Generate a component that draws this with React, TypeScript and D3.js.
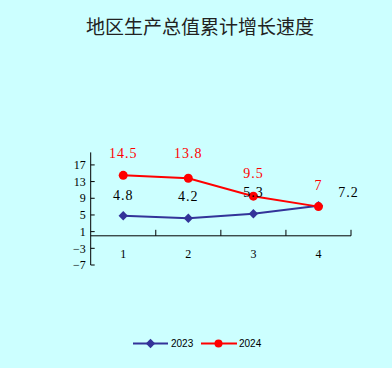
import React from "react";
import * as d3 from "d3";

const categories = ["1", "2", "3", "4"];
const series2023 = [4.8, 4.2, 5.3, 7.2];
const series2024 = [14.5, 13.8, 9.5, 7];
const yTicks = [-7, -3, 1, 5, 9, 13, 17];
const seriesNames = ["2023", "2024"];
const title = "地区生产总值累计增长速度";

const W = 392;
const H = 368;

export default function App() {
  const x = d3.scaleBand<string>().domain(categories).range([90.7, 351]);
  const y = d3.scaleLinear().domain([-7, 20]).range([265, 152.4]);
  const cx = (c: string) => (x(c) as number) + x.bandwidth() / 2;
  const line = d3
    .line<number>()
    .x((_, i) => cx(categories[i]))
    .y((d) => y(d));
  const diamond = d3.symbol().type(d3.symbolSquare).size(44)();
  const blue = "#333399";
  const red = "#ff0000";
  const num = "'Liberation Serif', 'DejaVu Serif', serif";
  // label offsets (styling): dx, dy per point
  const lab2023 = [
    [0, -21],
    [0, -22],
    [0, -22],
    [30, -14],
  ];
  const lab2024 = [
    [0, -22],
    [0, -25],
    [0, -23],
    [0, -22],
  ];
  const x0 = y(0);
  return (
    <div style={{ position: "fixed", left: 0, top: 0 }}>
      <svg width={W} height={H} style={{ display: "block" }}>
        <rect x={0} y={0} width={W} height={H} fill="#ccffff" />
        <text
          x={200}
          y={34}
          textAnchor="middle"
          fontSize={19}
          fontFamily="'Noto Sans CJK SC', sans-serif"
          fill="#222"
        >
          {title}
        </text>
        {/* y axis */}
        <line x1={x.range()[0]} x2={x.range()[0]} y1={y(20)} y2={y(-7)} stroke="#000" strokeWidth={1} />
        {yTicks.map((t) => (
          <g key={t}>
            <line x1={x.range()[0]} x2={x.range()[0] + 4} y1={y(t)} y2={y(t)} stroke="#000" />
            <text
              x={x.range()[0] - 5}
              y={y(t)}
              dy="0.35em"
              textAnchor="end"
              fontSize={12}
              fontFamily={num}
              fill="#000"
            >
              {t < 0 ? "\u2212" + Math.abs(t) : t}
            </text>
          </g>
        ))}
        {/* x axis */}
        <line x1={x.range()[0]} x2={x.range()[1]} y1={x0} y2={x0} stroke="#000" strokeWidth={1} />
        {categories.map((c) => (
          <g key={c}>
            <line
              x1={(x(c) as number) + x.bandwidth()}
              x2={(x(c) as number) + x.bandwidth()}
              y1={x0}
              y2={x0 - 6}
              stroke="#000"
            />
            <text x={cx(c)} y={x0 + 18} dy="0.35em" textAnchor="middle" fontSize={12} fontFamily={num} fill="#000">
              {c}
            </text>
          </g>
        ))}
        {/* series 2023 */}
        <path d={line(series2023) as string} fill="none" stroke={blue} strokeWidth={2} />
        {series2023.map((v, i) => (
          <path
            key={i}
            d={diamond as string}
            transform={`translate(${cx(categories[i])},${y(v)}) rotate(45)`}
            fill={blue}
          />
        ))}
        {/* series 2024 */}
        <path d={line(series2024) as string} fill="none" stroke={red} strokeWidth={2} />
        {series2024.map((v, i) => (
          <circle key={i} cx={cx(categories[i])} cy={y(v)} r={4.5} fill={red} />
        ))}
        {/* labels */}
        {series2023.map((v, i) => (
          <text
            key={"a" + i}
            x={cx(categories[i]) + lab2023[i][0]}
            y={y(v) + lab2023[i][1]}
            dy="0.35em"
            textAnchor="middle"
            fontSize={14}
            letterSpacing={1}
            fontFamily={num}
            fill="#000"
          >
            {v}
          </text>
        ))}
        {series2024.map((v, i) => (
          <text
            key={"b" + i}
            x={cx(categories[i]) + lab2024[i][0]}
            y={y(v) + lab2024[i][1]}
            dy="0.35em"
            textAnchor="middle"
            fontSize={14}
            letterSpacing={1}
            fontFamily={num}
            fill={red}
          >
            {v}
          </text>
        ))}
        {/* legend */}
        <g>
          <line x1={133} x2={168} y1={343.5} y2={343.5} stroke={blue} strokeWidth={2} />
          <path d={diamond as string} transform="translate(150.5,343.5) rotate(45)" fill={blue} />
          <text x={171} y={343.5} dy="0.35em" fontSize={10} fontFamily="'Liberation Sans', Arial, sans-serif" fill="#000">
            {seriesNames[0]}
          </text>
          <line x1={201} x2={237} y1={343.5} y2={343.5} stroke={red} strokeWidth={2} />
          <circle cx={218.5} cy={343.5} r={4} fill={red} />
          <text x={239} y={343.5} dy="0.35em" fontSize={10} fontFamily="'Liberation Sans', Arial, sans-serif" fill="#000">
            {seriesNames[1]}
          </text>
        </g>
      </svg>
    </div>
  );
}
